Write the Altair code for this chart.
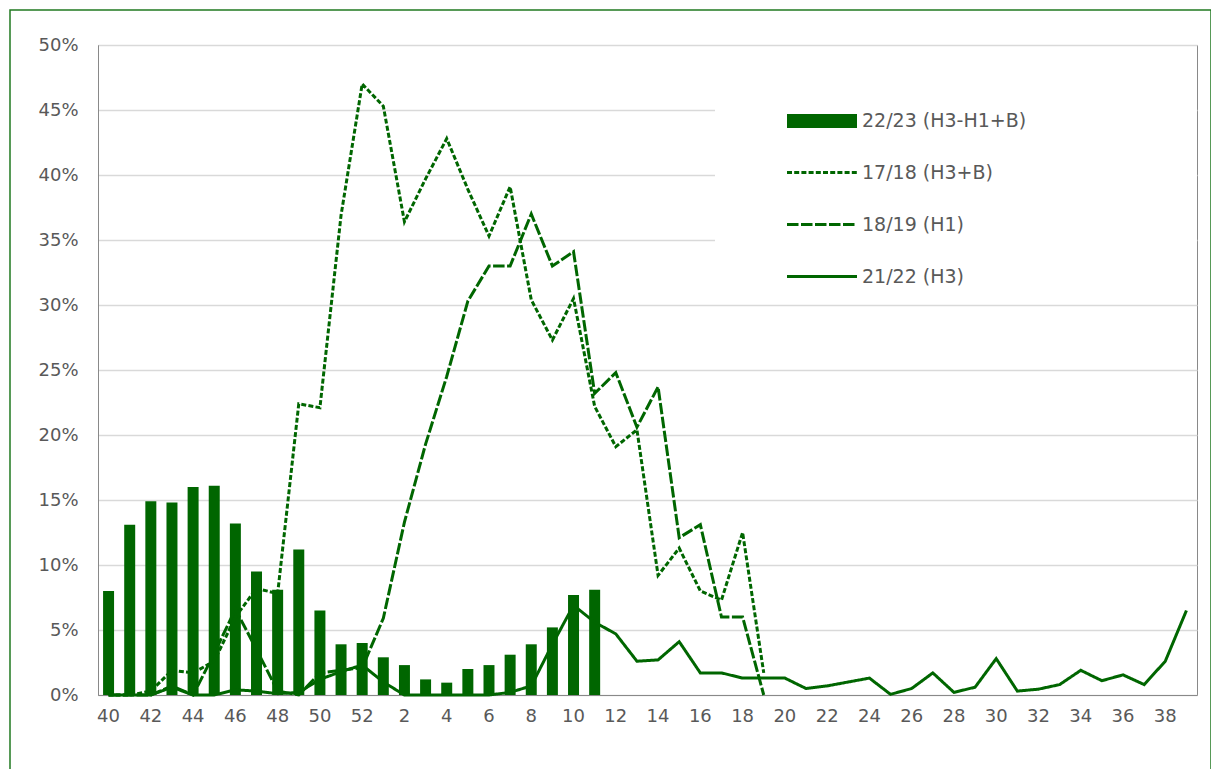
import altair as alt
import pandas as pd

# Week categories (season order)
weeks = [str(w) for w in list(range(40, 53)) + list(range(1, 40))]
series_names = ["22/23 (H3-H1+B)", "17/18 (H3+B)", "18/19 (H1)", "21/22 (H3)"]

# 22/23 bars: weeks 40..11 (%)
s2223 = [8.0, 13.1, 14.9, 14.8, 16.0, 16.1, 13.2, 9.5, 8.1, 11.2, 6.5, 3.9, 4.0,
         2.9, 2.3, 1.2, 0.95, 2.0, 2.3, 3.1, 3.9, 5.2, 7.7, 8.1]
# 17/18: weeks 40..19 (%)
s1718 = [0.0, 0.0, 0.3, 1.9, 1.7, 2.6, 6.0, 8.2, 7.8, 22.4, 22.1, 36.9, 47.0,
         45.3, 36.4, 39.7, 42.8, 38.9, 35.3, 39.1, 30.4, 27.3, 30.5, 22.2, 19.1,
         20.4, 9.2, 11.3, 8.0, 7.3, 12.5, 1.7]
# 18/19: weeks 40..19 (%)
s1819 = [0.0, 0.0, 0.0, 0.7, 0.0, 3.2, 6.6, 3.5, 0.3, 0.0, 1.7, 1.9, 2.1,
         5.9, 13.3, 19.3, 24.5, 30.3, 33.0, 33.0, 37.0, 33.0, 34.1, 23.2, 24.8,
         20.6, 23.7, 12.1, 13.1, 6.0, 6.0, 0.0]
# 21/22: weeks 40..39 (%)
s2122 = [0.0, 0.0, 0.0, 0.6, 0.0, 0.0, 0.4, 0.3, 0.1, 0.2, 1.2, 1.8, 2.3,
         1.0, 0.0, 0.0, 0.0, 0.0, 0.0, 0.2, 0.7, 3.9, 6.9, 5.6, 4.7, 2.6, 2.7,
         4.1, 1.7, 1.7, 1.3, 1.3, 1.3, 0.5, 0.7, 1.0, 1.3, 0.05, 0.5, 1.7, 0.2,
         0.6, 2.8, 0.3, 0.45, 0.8, 1.9, 1.1, 1.55, 0.8, 2.6, 6.5]

rows = []
for name, vals in [(series_names[0], s2223), (series_names[1], s1718),
                   (series_names[2], s1819), (series_names[3], s2122)]:
    for i, v in enumerate(vals):
        rows.append({"week": weeks[i], "idx": i, "series": name, "value": v})
df = pd.DataFrame(rows)

GREEN = "#006600"
GRAY_TXT = "#595959"
FONT = "DejaVu Sans"

x_enc = alt.X(
    "week:N", sort=weeks,
    scale=alt.Scale(domain=weeks, paddingInner=0.48, paddingOuter=0.24),
    axis=alt.Axis(title=None, values=weeks[::2], labelAngle=0, ticks=False,
                  domainColor="#898989", labelPadding=12, labelFontSize=18,
                  labelColor=GRAY_TXT, labelFont=FONT, grid=False),
)
y_enc = alt.Y(
    "value:Q",
    scale=alt.Scale(domain=[0, 50], nice=False),
    axis=alt.Axis(title=None, values=list(range(0, 55, 5)),
                  labelExpr="datum.value + '%'", ticks=False, grid=True,
                  gridColor="#d9d9d9", gridWidth=1.5, domainColor="#898989",
                  labelPadding=20, labelFontSize=18, labelColor=GRAY_TXT,
                  labelFont=FONT),
)

legend = alt.Legend(
    title=None, orient="none", legendX=712, legendY=64,
    symbolType="M-7,0L7,0", symbolSize=100, symbolStrokeColor=GREEN,
    labelFontSize=19, labelColor=GRAY_TXT, labelFont=FONT, labelLimit=400,
    labelExpr="[datum.label, ' ']",
    labelOffset=28, rowPadding=11, padding=0,
)

border = alt.Chart(alt.Data(values=[{}])).mark_rect(
    fillOpacity=0, stroke="#217a21", strokeWidth=1.5
).encode(x=alt.value(-88), x2=alt.value(1113), y=alt.value(-35), y2=alt.value(760))

legend_bg = alt.Chart(alt.Data(values=[{}])).mark_rect(fill="white").encode(
    x=alt.value(617), x2=alt.value(1099), y=alt.value(45), y2=alt.value(250)
)

bars = alt.Chart(df).transform_filter(
    alt.datum.series == series_names[0]
).mark_bar(color=GREEN).encode(x=x_enc, y=y_enc)

lines = alt.Chart(df).transform_filter(
    alt.datum.series != series_names[0]
).mark_line(color=GREEN).encode(
    x=x_enc, y=y_enc,
    order=alt.Order("idx:Q"),
    strokeDash=alt.StrokeDash(
        "series:N",
        scale=alt.Scale(domain=series_names,
                        range=[[1, 0], [5, 2.2], [11.5, 2.5], [1, 0]]),
        legend=legend,
    ),
    strokeWidth=alt.StrokeWidth(
        "series:N",
        scale=alt.Scale(type="ordinal", domain=series_names, range=[14, 3, 3, 3]),
        legend=legend,
    ),
)

chart = alt.layer(border, legend_bg, bars, lines).properties(
    width=1099, height=650,
    autosize=alt.AutoSizeParams(type="none"),
    padding={"left": 90, "top": 37, "right": 14, "bottom": 74},
).configure_view(stroke="#898989", strokeWidth=1)

chart.save("out.html", embed_options={"renderer": "svg", "actions": False})
